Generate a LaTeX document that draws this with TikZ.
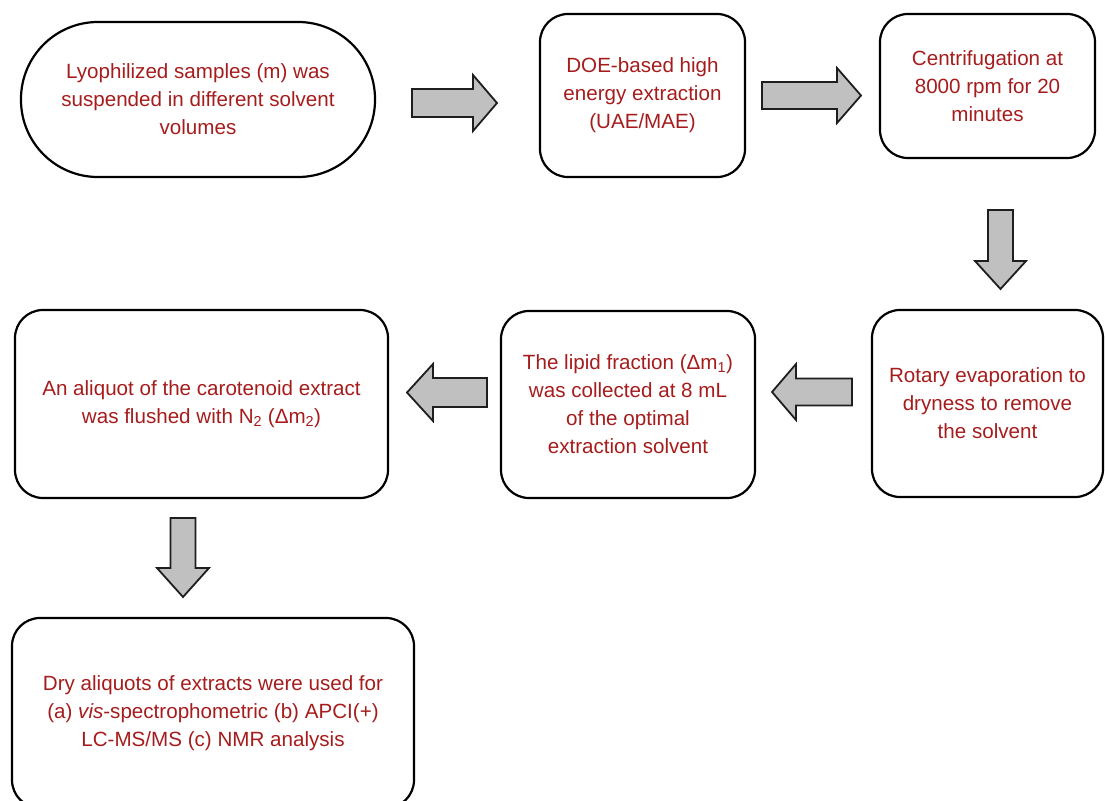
\documentclass[tikz,border=0pt]{standalone}
\usepackage{fontspec}
\setmainfont{Liberation Sans}
\definecolor{steptext}{RGB}{166,28,28}
\definecolor{arrowfill}{RGB}{192,192,192}
\definecolor{arrowline}{RGB}{30,30,30}

% block arrow: tail x, tail y, direction, length, head length, shaft width, head width
\newcommand\blockarrow[7]{%
  \draw[blockarrowstyle, shift={(#1,#2)}, rotate=#3]
    (0,-#6/2) -- (#4-#5,-#6/2) -- (#4-#5,-#7/2) -- (#4,0)
    -- (#4-#5,#7/2) -- (#4-#5,#6/2) -- (0,#6/2) -- cycle;}

\begin{document}
\begin{tikzpicture}[x=1pt,y=-1pt,
  stepbox/.style={draw=black, line width=2.2pt, rounded corners=28pt,
    inner sep=0pt, align=center, text=steptext,
    font=\fontsize{20.6}{28}\selectfont},
  blockarrowstyle/.style={draw=arrowline, fill=arrowfill, line width=1.8pt,
    line join=miter}]
\useasboundingbox (0,0) rectangle (1105,800);

% process steps
\node[stepbox, rounded corners=77pt, minimum width=354pt, minimum height=155pt]
  (s1) at (198,99.5) {Lyophilized samples (m) was\\suspended in different solvent\\volumes};
\node[stepbox, minimum width=205pt, minimum height=163pt]
  (s2) at (642.5,95.5) {DOE-based high\\energy extraction\\(UAE/MAE)};
\node[stepbox, minimum width=215pt, minimum height=144pt]
  (s3) at (987.5,86) {Centrifugation at\\8000 rpm for 20\\minutes};
\node[stepbox, minimum width=231pt, minimum height=187pt]
  (s4) at (987.5,403.5) {Rotary evaporation to\\dryness to remove\\the solvent};
\node[stepbox, minimum width=254pt, minimum height=187pt]
  (s5) at (628,404.5) {The lipid fraction (Δm\textsubscript{1})\\was collected at 8 mL\\of the optimal\\extraction solvent};
\node[stepbox, minimum width=373pt, minimum height=188pt]
  (s6) at (201.5,404) {An aliquot of the carotenoid extract\\was flushed with N\textsubscript{2} (Δm\textsubscript{2})};
\node[stepbox, minimum width=402pt, minimum height=190pt]
  (s7) at (213,713) {Dry aliquots of extracts were used for\\(a) \textit{vis}-spectrophometric (b) APCI(+)\\LC-MS/MS (c) NMR analysis};

% flow arrows between the steps
\blockarrow{412}{103}{0}{85}{24}{28}{56}
\blockarrow{762}{95.5}{0}{99}{24}{27}{55}
\blockarrow{1000.5}{210}{-90}{79}{28}{25}{51}
\blockarrow{852}{392}{180}{80}{24}{27}{56}
\blockarrow{487}{392.5}{180}{80}{26}{29}{57}
\blockarrow{183}{518}{-90}{79}{29}{25}{52}
\end{tikzpicture}
\end{document}
